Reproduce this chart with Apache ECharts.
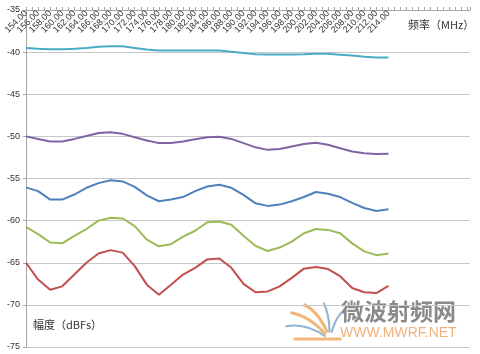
<!DOCTYPE html>
<html><head><meta charset="utf-8">
<script src="https://cdn.jsdelivr.net/npm/echarts@6/dist/echarts.min.js"></script>
<style>html,body{margin:0;padding:0;background:#fff}#c{width:480px;height:354px}</style>
</head><body><div id="c"></div>
<script>
const freqs = [154,156,158,160,162,164,166,168,170,172,174,176,178,180,182,184,186,188,190,192,194,196,198,200,202,204,206,208,210,212,214];
const cyanVals   = [-39.5,-39.6,-39.65,-39.65,-39.6,-39.5,-39.35,-39.3,-39.3,-39.5,-39.7,-39.8,-39.8,-39.8,-39.8,-39.8,-39.8,-39.95,-40.1,-40.25,-40.27,-40.27,-40.27,-40.25,-40.2,-40.2,-40.3,-40.4,-40.55,-40.65,-40.65];
const purpleVals = [-50.0,-50.3,-50.6,-50.6,-50.3,-49.95,-49.6,-49.5,-49.7,-50.1,-50.5,-50.8,-50.8,-50.6,-50.35,-50.1,-50.05,-50.3,-50.8,-51.3,-51.6,-51.5,-51.2,-50.9,-50.75,-51.0,-51.4,-51.8,-52.0,-52.1,-52.05];
const blueVals   = [-56.05,-56.5,-57.5,-57.5,-56.9,-56.1,-55.55,-55.2,-55.35,-56.0,-57.0,-57.7,-57.5,-57.2,-56.5,-55.95,-55.75,-56.1,-56.95,-57.95,-58.25,-58.1,-57.7,-57.2,-56.6,-56.8,-57.2,-57.9,-58.5,-58.85,-58.65];
const greenVals  = [-60.75,-61.6,-62.6,-62.7,-61.8,-61.0,-60.0,-59.65,-59.75,-60.65,-62.25,-63.05,-62.8,-61.9,-61.2,-60.2,-60.1,-60.5,-61.8,-63.0,-63.6,-63.2,-62.5,-61.5,-61.0,-61.1,-61.5,-62.7,-63.65,-64.1,-63.9];
const redVals    = [-65.0,-67.0,-68.2,-67.8,-66.4,-65.0,-63.9,-63.5,-63.8,-65.4,-67.6,-68.8,-67.6,-66.4,-65.6,-64.6,-64.5,-65.6,-67.5,-68.5,-68.4,-67.8,-66.8,-65.7,-65.5,-65.75,-66.6,-68.0,-68.5,-68.6,-67.75];
const yTicks = [-75,-70,-65,-60,-55,-50,-45,-40,-35];
const xTitle = '频率（MHz）';
const yTitle = '幅度（dBFs）';

const seriesDefs = [
  {vals: cyanVals, color: '#4BACC6'},
  {vals: purpleVals, color: '#8064A2'},
  {vals: blueVals, color: '#4F81BD'},
  {vals: greenVals, color: '#9BBB59'},
  {vals: redVals, color: '#C0504D'}
];

const chart = echarts.init(document.getElementById('c'), null, {renderer: 'canvas'});
chart.setOption({
  animation: false,
  backgroundColor: '#fff',
  grid: {left: 26, right: 10, top: 10, bottom: 7, containLabel: false},
  xAxis: {
    type: 'value', position: 'top', min: 154, max: 227.5, interval: 1,
    axisLine: {show: true, lineStyle: {color: '#a6a6a6', width: 1}},
    axisTick: {show: true, length: 3, lineStyle: {color: '#a6a6a6'}},
    splitLine: {show: false},
    axisLabel: {
      inside: true, rotate: -45, margin: 2, fontSize: 9, color: '#333',
      fontFamily: 'Liberation Sans',
      formatter: v => (v % 2 === 0 && v <= 214) ? v.toFixed(2) : ''
    }
  },
  yAxis: {
    type: 'value', min: yTicks[0], max: yTicks[yTicks.length-1], interval: 5,
    axisLine: {show: true, lineStyle: {color: '#a6a6a6', width: 1}},
    axisTick: {show: true, length: 3, lineStyle: {color: '#a6a6a6'}},
    splitLine: {show: true, lineStyle: {color: '#c8c8c8', width: 1}},
    axisLabel: {fontSize: 9, color: '#333', margin: 6, fontFamily: 'Liberation Sans'}
  },
  series: seriesDefs.map(s => ({
    type: 'line', showSymbol: false, symbol: 'none',
    data: freqs.map((f, i) => [f, s.vals[i]]),
    lineStyle: {color: s.color, width: 2},
    itemStyle: {color: s.color}
  })),
  graphic: [
    {type: 'text', left: 408, top: 19, style: {text: xTitle, fontSize: 11, fill: '#333', fontFamily: 'Noto Sans CJK SC'}},
    {type: 'text', left: 33, top: 319, style: {text: yTitle, fontSize: 11, fill: '#333', fontFamily: 'Noto Sans CJK SC'}},
    {type: 'group', left: 283, top: 300, children: [
      {type: 'bezierCurve', shape: {x1: 0, y1: 22, x2: 40, y2: 32, cpx1: 20, cpy1: 18}, style: {stroke: '#8fb3d6', lineWidth: 2, fill: null}},
      {type: 'bezierCurve', shape: {x1: 5, y1: 8, x2: 40, y2: 30, cpx1: 25, cpy1: 12}, style: {stroke: '#f2b67a', lineWidth: 3, fill: null}},
      {type: 'bezierCurve', shape: {x1: 18, y1: 0, x2: 42, y2: 28, cpx1: 32, cpy1: 6}, style: {stroke: '#f2b67a', lineWidth: 3, fill: null}},
      {type: 'bezierCurve', shape: {x1: 38, y1: -2, x2: 44, y2: 28, cpx1: 44, cpy1: 10}, style: {stroke: '#8fb3d6', lineWidth: 2, fill: null}},
      {type: 'bezierCurve', shape: {x1: 56, y1: 8, x2: 46, y2: 28, cpx1: 50, cpy1: 14}, style: {stroke: '#8fb3d6', lineWidth: 2, fill: null}},
      {type: 'rect', shape: {x: 8, y: 33, width: 48, height: 3}, style: {fill: '#f2b67a'}}
    ]},
    {type: 'text', left: 341, top: 300, style: {text: '微波射频网', fontSize: 23, fontWeight: 'bold', fill: '#8a8a8a', fontFamily: 'Noto Sans CJK SC'}},
    {type: 'text', left: 340, top: 326, style: {text: 'WWW.MWRF.NET', fontSize: 14, fill: '#f0b27a', fontFamily: 'Liberation Sans'}}
  ]
});
</script>
</body></html>
